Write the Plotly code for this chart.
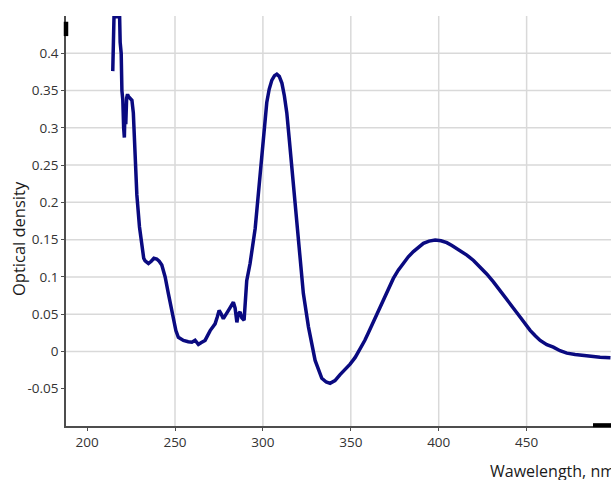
import plotly.graph_objects as go

# ---- data ----
wavelength = [214.6, 214.9, 215.1, 215.3, 216.0, 217.0, 218.5, 218.8, 219.4, 219.8,
              220.3, 220.8, 221.2, 221.6, 222.0, 222.5, 223.0, 223.5, 224.5, 225.5,
              226.3, 226.9, 227.3, 228.3, 229.8, 231.1, 232.2, 233.0, 234.9, 236.5,
              238.0, 239.6, 241.0, 242.5, 244.4, 246.2, 248.7, 250.5, 251.9, 254.8,
              257.5, 259.6, 261.4, 262.3, 263.3, 265.0, 267.1, 270.0, 272.8, 274.0,
              275.1, 276.3, 277.5, 280.4, 282.0, 283.2, 284.2, 285.2, 286.0, 287.0,
              288.0, 289.3, 290.8, 292.7, 295.6, 297.4, 300.3, 302.2, 303.6, 305.1,
              306.6, 307.9, 309.3, 310.8, 312.2, 313.6, 315.1, 317.0, 318.7, 321.0,
              323.0, 325.9, 329.7, 333.5, 336.0, 338.2, 341.0, 343.9, 346.8, 349.6,
              352.5, 355.3, 358.0, 360.0, 362.0, 364.0, 366.3, 368.5, 371.3, 374.2,
              377.0, 379.9, 382.7, 385.6, 388.4, 391.3, 394.5, 398.0, 401.3, 404.6,
              407.5, 410.3, 413.1, 416.0, 419.8, 423.5, 427.3, 431.1, 434.9, 438.7,
              442.5, 446.3, 449.2, 452.0, 454.9, 457.7, 461.5, 465.2, 469.0, 472.9,
              477.6, 482.3, 487.0, 491.8, 497.7]
optical_density = [0.376, 0.449, 0.40, 0.449, 0.449, 0.449, 0.449, 0.415, 0.40, 0.35,
                   0.338, 0.30, 0.287, 0.33, 0.305, 0.34, 0.345, 0.342, 0.34, 0.337,
                   0.32, 0.288, 0.258, 0.21, 0.167, 0.14, 0.125, 0.1215, 0.118, 0.121,
                   0.125, 0.124, 0.121, 0.116, 0.100, 0.078, 0.046, 0.028, 0.019, 0.0148,
                   0.013, 0.0125, 0.015, 0.012, 0.0094, 0.012, 0.0148, 0.028, 0.037, 0.046,
                   0.055, 0.050, 0.044, 0.055, 0.062, 0.066, 0.058, 0.039, 0.050, 0.053,
                   0.045, 0.042, 0.095, 0.118, 0.165, 0.21, 0.29, 0.334, 0.352, 0.364,
                   0.370, 0.372, 0.369, 0.360, 0.343, 0.320, 0.282, 0.231, 0.186, 0.127,
                   0.078, 0.033, -0.012, -0.036, -0.041, -0.0427, -0.039, -0.031, -0.024, -0.017,
                   -0.008, 0.003, 0.015, 0.025, 0.035, 0.045, 0.057, 0.0687, 0.084, 0.098,
                   0.109, 0.118, 0.127, 0.134, 0.140, 0.145, 0.148, 0.1495, 0.1485, 0.1459,
                   0.142, 0.138, 0.134, 0.1293, 0.122, 0.1135, 0.104, 0.0933, 0.082, 0.0710,
                   0.058, 0.0462, 0.037, 0.0283, 0.021, 0.0148, 0.009, 0.0058, 0.001, -0.0023,
                   -0.004, -0.0054, -0.0066, -0.0077, -0.0085]

x_tickvals = [200, 250, 300, 350, 400, 450]
x_ticktext = ["200", "250", "300", "350", "400", "450"]
y_tickvals = [-0.05, 0, 0.05, 0.1, 0.15, 0.2, 0.25, 0.3, 0.35, 0.4]
y_ticktext = ["-0.05", "0", "0.05", "0.1", "0.15", "0.2", "0.25", "0.3", "0.35", "0.4"]
x_grid = [250, 300, 350, 400, 450]
y_grid = [0, 0.05, 0.1, 0.15, 0.2, 0.25, 0.3, 0.35, 0.4]
x_title = "Wawelength, nm"
y_title = "Optical density"

FONT = "'Open Sans', sans-serif"
GRID = "#d9d9d9"
AXIS = "#4d4d4d"

fig = go.Figure()
fig.add_trace(go.Scatter(
    x=wavelength, y=optical_density, mode="lines",
    line=dict(color="#0a0a80", width=3.5), hoverinfo="skip", showlegend=False))

shapes = []
for gx in x_grid:
    shapes.append(dict(type="line", xref="x", yref="paper", x0=gx, x1=gx, y0=0, y1=1,
                       line=dict(color=GRID, width=1.5), layer="below"))
for gy in y_grid:
    shapes.append(dict(type="line", xref="paper", yref="y", x0=0, x1=1, y0=gy, y1=gy,
                       line=dict(color=GRID, width=1.5), layer="below"))
# axis arrow marks
shapes.append(dict(type="line", xref="paper", yref="paper", x0=0, x1=0, y0=0.951, y1=0.986,
                   line=dict(color="black", width=4.5), layer="above"))
shapes.append(dict(type="line", xref="paper", yref="paper", x0=0.967, x1=1.0, y0=0.002, y1=0.002,
                   line=dict(color="black", width=4), layer="above"))

fig.update_layout(
    width=611, height=480,
    margin=dict(l=66, r=0, t=16, b=54),
    paper_bgcolor="white", plot_bgcolor="white",
    font=dict(family=FONT, color="#333333"),
    shapes=shapes,
    xaxis=dict(range=[188, 498], tickvals=x_tickvals, ticktext=x_ticktext,
               showgrid=False, zeroline=False, showline=True, linecolor=AXIS, linewidth=1.5,
               ticks="outside", ticklen=3, tickcolor=AXIS, tickwidth=1,
               tickfont=dict(family=FONT, size=13.5, color="#333333")),
    yaxis=dict(range=[-0.1, 0.45], tickvals=y_tickvals, ticktext=y_ticktext,
               showgrid=False, zeroline=False, showline=True, linecolor=AXIS, linewidth=1.5,
               ticks="outside", ticklen=3, tickcolor=AXIS, tickwidth=1,
               tickfont=dict(family=FONT, size=13.5, color="#333333")),
    annotations=[
        dict(text=x_title, xref="paper", yref="paper", x=(488 - 66) / 545, y=(426 - 471) / 410,
             xanchor="left", yanchor="middle", showarrow=False,
             font=dict(family=FONT, size=16, color="#1a1a1a")),
        dict(text=y_title, xref="paper", yref="paper", x=(18 - 66) / 545, y=(426 - 239) / 410,
             xanchor="center", yanchor="middle", textangle=-90, showarrow=False,
             font=dict(family=FONT, size=16.5, color="#1a1a1a")),
    ],
)

fig.write_html("out.html")
